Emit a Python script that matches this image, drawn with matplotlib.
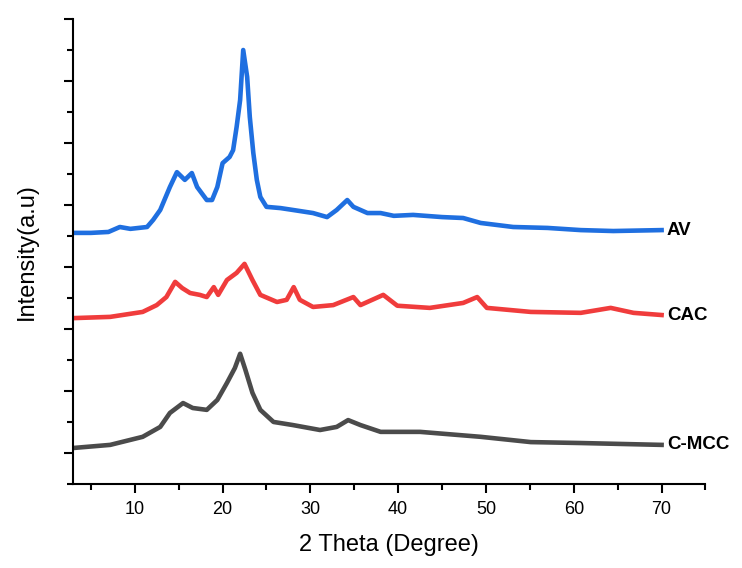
import numpy as np
import matplotlib.pyplot as plt
from matplotlib.ticker import MultipleLocator

plt.rcParams['font.family'] = ['Liberation Sans', 'DejaVu Sans']

# AV (blue) (2 theta, offset intensity)
av_x = [3, 5, 7, 8.3, 9.5, 11.4, 12.1, 12.9, 14.0, 14.8, 15.7, 16.5, 17.1, 18.2, 18.8,
        19.4, 20.0, 20.8, 21.2, 21.6, 22.0, 22.35, 22.8, 23.1, 23.5, 23.9, 24.3, 25.0,
        26.6, 28.0, 30.3, 31.9, 33.0, 34.2, 34.9, 36.5, 38.0, 39.5, 41.7, 45.0, 47.4,
        49.4, 53.1, 57.0, 60.8, 64.5, 70]
av_y = [8.10, 8.10, 8.13, 8.29, 8.23, 8.29, 8.52, 8.84, 9.58, 10.06, 9.81, 10.03, 9.58,
        9.16, 9.16, 9.58, 10.35, 10.55, 10.77, 11.52, 12.39, 14.0, 13.13, 11.84, 10.68,
        9.81, 9.26, 8.94, 8.90, 8.84, 8.74, 8.61, 8.84, 9.16, 8.94, 8.74, 8.74, 8.65,
        8.68, 8.61, 8.58, 8.42, 8.29, 8.26, 8.19, 8.16, 8.19]

# CAC (red)
cac_x = [3, 7.2, 10.9, 12.5, 13.6, 14.6, 15.4, 16.3, 17.4, 18.2, 19.0, 19.5, 20.5, 21.6,
         22.5, 23.4, 24.3, 26.2, 27.3, 28.1, 28.8, 30.3, 32.6, 34.9, 35.7, 38.3, 39.9,
         43.6, 47.4, 49.0, 50.1, 55.1, 60.8, 64.2, 66.8, 70]
cac_y = [5.35, 5.39, 5.55, 5.77, 6.03, 6.52, 6.32, 6.16, 6.10, 6.03, 6.35, 6.10, 6.58,
         6.81, 7.10, 6.58, 6.10, 5.87, 5.94, 6.35, 5.94, 5.71, 5.77, 6.03, 5.77, 6.10,
         5.75, 5.68, 5.84, 6.03, 5.68, 5.55, 5.52, 5.68, 5.52, 5.45]

# C-MCC (grey)
cmcc_x = [3, 7.2, 10.9, 12.9, 14.0, 15.5, 16.6, 18.2, 19.4, 20.5, 21.4, 22.0, 22.6, 23.4,
          24.3, 25.8, 28.0, 31.1, 33.0, 34.3, 35.7, 38.0, 42.5, 49.4, 55.1, 60.8, 70]
cmcc_y = [1.16, 1.26, 1.52, 1.84, 2.29, 2.61, 2.45, 2.39, 2.71, 3.26, 3.74, 4.20, 3.68,
          2.94, 2.39, 2.00, 1.90, 1.74, 1.84, 2.06, 1.90, 1.68, 1.68, 1.52, 1.35, 1.32, 1.26]

names = ['AV', 'CAC', 'C-MCC']
colors = ['#1f6fe0', '#f03c3c', '#4b4b4b']
series = [(av_x, av_y), (cac_x, cac_y), (cmcc_x, cmcc_y)]

fig = plt.figure(figsize=(7.42, 5.68), dpi=100)
ax = fig.add_axes([0.0988, 0.148, 0.8520, 0.8185])

for (x, y), c, n in zip(series, colors, names):
    ax.plot(x, y, color=c, lw=3.3)
    ax.text(70.6, y[-1], n, fontsize=13.5, fontweight='bold', va='center', ha='left')

ax.set_xlim(3, 75)
ax.set_ylim(0, 15)
ax.spines['top'].set_visible(False)
ax.spines['right'].set_visible(False)
ax.spines['left'].set_linewidth(1.5)
ax.spines['bottom'].set_linewidth(1.5)

ax.xaxis.set_minor_locator(MultipleLocator(5))
ax.set_xticks(np.arange(10, 71, 10))
ax.yaxis.set_major_locator(MultipleLocator(2, offset=1))
ax.yaxis.set_minor_locator(MultipleLocator(1))
ax.tick_params(axis='both', which='major', length=6.5, width=1.5, labelsize=13, pad=6)
ax.tick_params(axis='both', which='minor', length=4, width=1.5)
ax.tick_params(axis='y', labelleft=False)

ax.set_xlabel('2 Theta (Degree)', fontsize=17, labelpad=11)
ax.set_ylabel('Intensity(a.u)', fontsize=17, labelpad=18)

fig.savefig('out.png', dpi=100)
